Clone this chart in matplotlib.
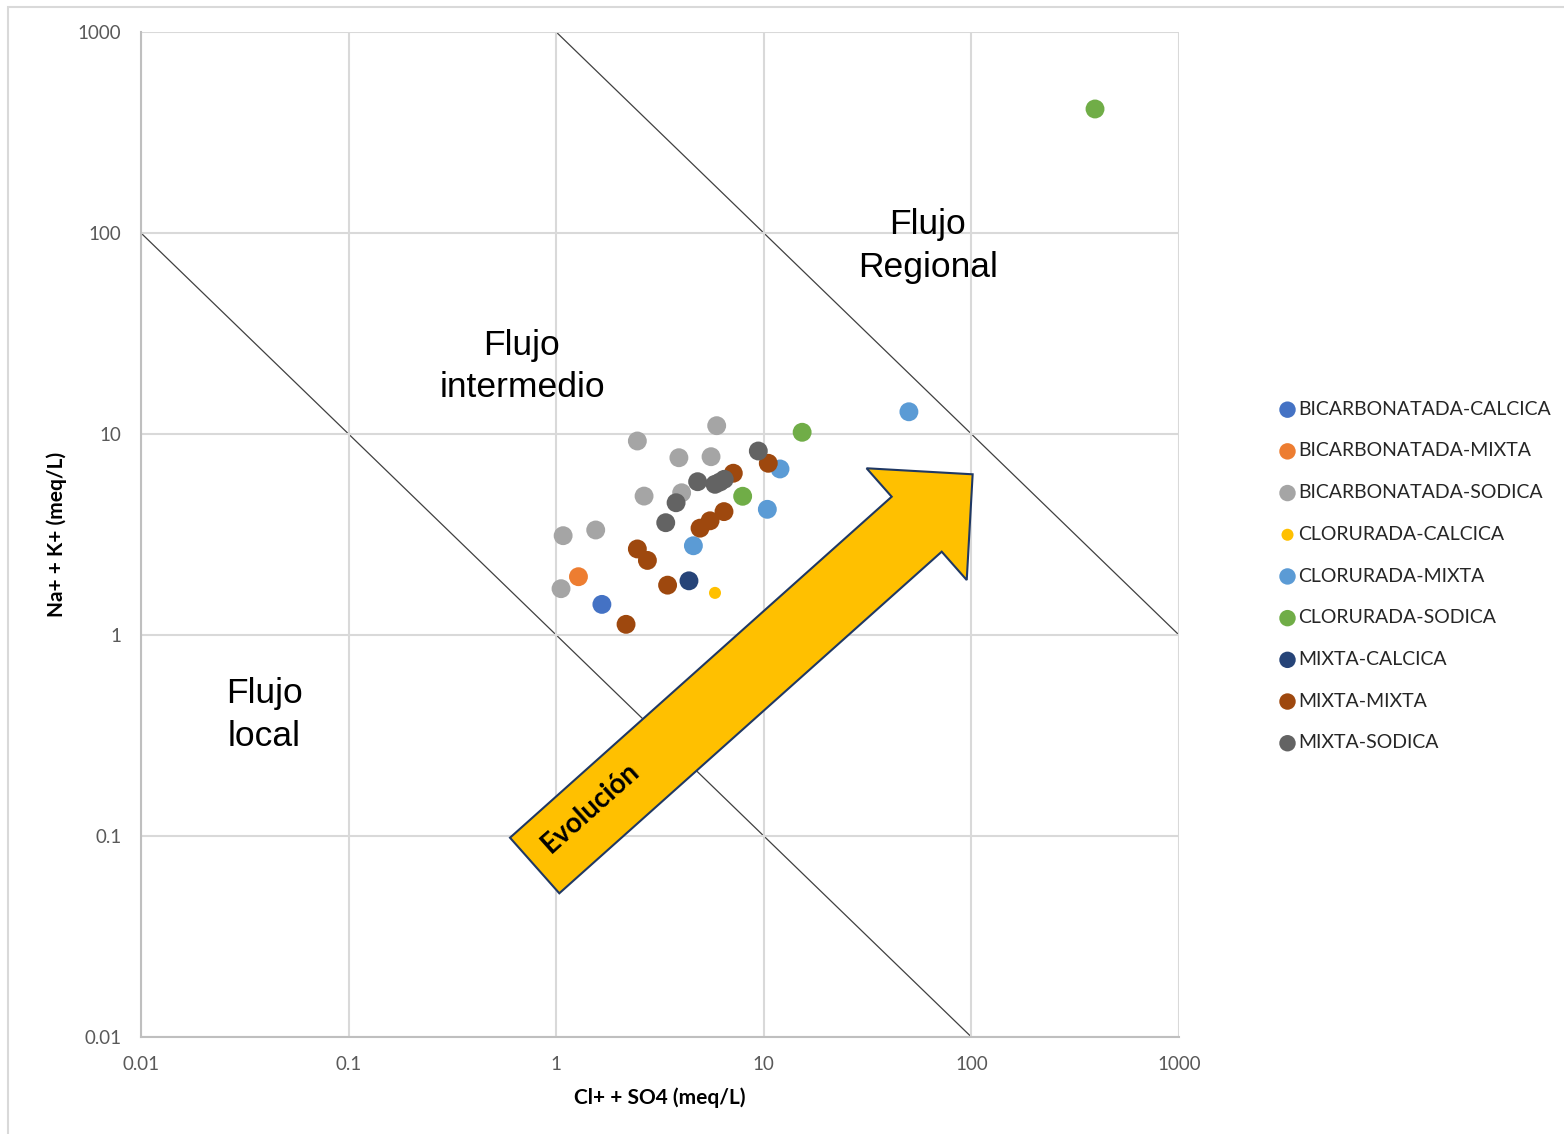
import matplotlib.pyplot as plt
from matplotlib.patches import Polygon, Rectangle
import numpy as np

# water types and colours (legend order)
tipos = ['BICARBONATADA-CALCICA', 'BICARBONATADA-MIXTA', 'BICARBONATADA-SODICA',
         'CLORURADA-CALCICA', 'CLORURADA-MIXTA', 'CLORURADA-SODICA',
         'MIXTA-CALCICA', 'MIXTA-MIXTA', 'MIXTA-SODICA']
colores = ['#4472C4', '#ED7D31', '#A5A5A5', '#FFC000', '#5B9BD5',
           '#70AD47', '#264478', '#9E480E', '#636363']

# Cl + SO4 (x) and Na + K (y), meq/L
x_bic_cal = [1.66]
y_bic_cal = [1.42]
x_bic_mix = [1.28]
y_bic_mix = [1.95]
x_bic_sod = [5.93, 2.46, 3.90, 5.57, 4.02, 2.65, 1.55, 1.08, 1.055]
y_bic_sod = [11.0, 9.23, 7.62, 7.71, 5.10, 4.91, 3.33, 3.12, 1.70]
x_clo_cal = [5.82]
y_clo_cal = [1.62]
x_clo_mix = [11.97, 10.40, 4.58, 50.0]
y_clo_mix = [6.70, 4.22, 2.78, 12.9]
x_clo_sod = [15.3, 7.91, 394]
y_clo_sod = [10.2, 4.90, 414]
x_mix_cal = [4.36]
y_mix_cal = [1.86]
x_mix_mix = [7.13, 10.51, 6.43, 5.51, 4.93, 2.46, 2.75, 3.44, 2.17]
y_mix_mix = [6.38, 7.15, 4.11, 3.70, 3.40, 2.68, 2.35, 1.77, 1.13]
x_mix_sod = [9.41, 4.80, 5.82, 6.15, 6.45, 3.78, 3.37]
y_mix_sod = [8.23, 5.79, 5.62, 5.77, 5.95, 4.55, 3.62]

xs = [x_bic_cal, x_bic_mix, x_bic_sod, x_clo_cal, x_clo_mix, x_clo_sod, x_mix_cal, x_mix_mix, x_mix_sod]
ys = [y_bic_cal, y_bic_mix, y_bic_sod, y_clo_cal, y_clo_mix, y_clo_sod, y_mix_cal, y_mix_mix, y_mix_sod]
tamanos = [185, 185, 185, 75, 185, 185, 185, 185, 185]

# limits between flow types: x * y = k
limites = [1, 1000]
ticks = [0.01, 0.1, 1, 10, 100, 1000]
tick_labels = ['0.01', '0.1', '1', '10', '100', '1000']

W, H = 1564, 1134
fig = plt.figure(figsize=(W / 100, H / 100), dpi=100)
ax = fig.add_axes([141 / W, (H - 1037) / H, 1038 / W, 1005 / H])

ax.set_xscale('log')
ax.set_yscale('log')
ax.set_xlim(0.01, 1000)
ax.set_ylim(0.01, 1000)

ax.grid(True, which='major', color='#D9D9D9', lw=1.5, zorder=0)
ax.minorticks_off()
ax.set_xticks(ticks)
ax.set_xticklabels(tick_labels)
ax.set_yticks(ticks)
ax.set_yticklabels(tick_labels)
ax.tick_params(length=0, labelsize=13.5, labelcolor='#595959', pad=14)
ax.tick_params(axis='x', pad=14)
for lab in ax.get_xticklabels() + ax.get_yticklabels():
    lab.set_family('Lato')
for s in ['top', 'right']:
    ax.spines[s].set_visible(False)
for s in ['left', 'bottom']:
    ax.spines[s].set_color('#BFBFBF')
    ax.spines[s].set_linewidth(1.5)

for k in limites:
    xl = np.array([max(0.01, k / 1000), min(1000, k / 0.01)])
    ax.plot(xl, k / xl, color='#404040', lw=0.9, zorder=1)

for x, y, c, t, s in zip(xs, ys, colores, tipos, tamanos):
    ax.scatter(x, y, s=s, color=c, label=t, edgecolors='none', zorder=3)

# evolution arrow (axes fraction)
flecha = [(0.3555, 0.1983), (0.7232, 0.5376), (0.6990, 0.5659), (0.8012, 0.5599),
          (0.7955, 0.4547), (0.7714, 0.4829), (0.4030, 0.1430)]
ax.add_patch(Polygon(flecha, closed=True, transform=ax.transAxes, facecolor='#FFC000',
                     edgecolor='#1F3864', lw=1.5, zorder=4))
ax.text(0.4326, 0.2279, 'Evolución', transform=ax.transAxes, rotation=41.8,
        rotation_mode='anchor', ha='center', va='center', fontsize=20,
        fontweight='bold', family='Lato', zorder=5)

txt = dict(transform=ax.transAxes, ha='center', va='center', fontsize=25.5,
           family='Liberation Sans', linespacing=1.36, zorder=5)
ax.text(0.758, 0.787, 'Flujo\nRegional', **txt)
ax.text(0.367, 0.667, 'Flujo\nintermedio', **txt)
ax.text(0.1185, 0.3204, 'Flujo\nlocal', **txt)

ax.set_xlabel('Cl+ + SO4 (meq/L)', fontsize=15, fontweight='bold', family='Lato', va='center')
ax.set_ylabel('Na+ + K+ (meq/L)', fontsize=15, fontweight='bold', family='Lato', va='center')
ax.xaxis.set_label_coords(0.5, -0.0607)
ax.yaxis.set_label_coords(-0.0809, 0.5)

leg = ax.legend(loc='upper left', bbox_to_anchor=(1270 / W, 1 - 393 / H),
                bbox_transform=fig.transFigure, frameon=False, prop={'family': 'Lato', 'size': 14},
                handletextpad=0.05, labelspacing=1.27, borderaxespad=0, handlelength=1.0)
for h in leg.legend_handles:
    h.set_sizes([140])
leg.legend_handles[3].set_sizes([75])
for t in leg.get_texts():
    t.set_color('#262626')

fig.add_artist(Rectangle((8 / W, -0.05), 2, 1.05 - 7 / H, transform=fig.transFigure,
                         fill=False, ec='#D9D9D9', lw=1.5))

fig.savefig('out.png', dpi=100)
